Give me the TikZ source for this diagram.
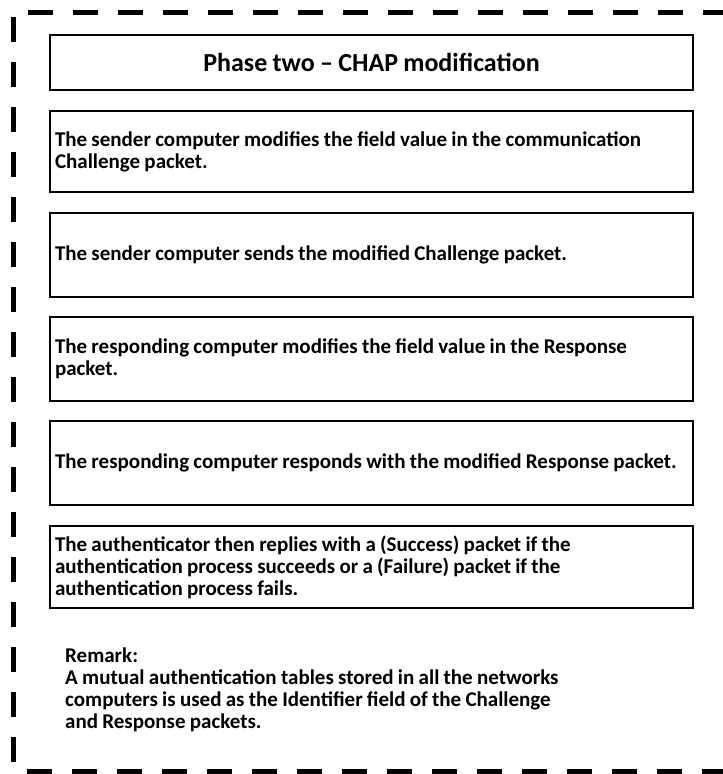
\documentclass[tikz,border=0pt]{standalone}
\usepackage{fontspec}
\setmainfont{Carlito}[WordSpace=0.9]
\begin{document}
\begin{tikzpicture}[x=1pt,y=-1pt,
  outerdash/.style={line width=5pt, dash pattern=on 25pt off 20pt},
  stepbox/.style={draw, line width=2.8pt, rectangle, minimum width=643pt,
    text width=633pt, inner xsep=5pt, inner ysep=0pt, align=flush left,
    font=\bfseries\fontsize{21}{22}\selectfont},
  titlebox/.style={draw, line width=2.8pt, rectangle, minimum width=643pt,
    inner sep=0pt, align=center, font=\bfseries\fontsize{26}{28}\selectfont},
  remarktext/.style={inner sep=0pt, align=flush left, anchor=north west,
    font=\bfseries\fontsize{21}{22}\selectfont}]
\useasboundingbox (0,0) rectangle (723,774);
\clip (0,0) rectangle (723,774);
% outer dashed frame (right side lies beyond the picture)
\coordinate (tl) at (28,12.5);
\coordinate (tr) at (760,12.5);
\coordinate (lt) at (13,17);
\coordinate (lb) at (13,771);
\coordinate (bl) at (27,771);
\coordinate (br) at (760,771);
\draw[outerdash] (tl) -- (tr);
\draw[outerdash] (lt) -- (lb);
\draw[outerdash] (bl) -- (br);
% boxes
\node[titlebox, minimum height=55pt] (title) at (371.5,62.5) {Phase two -- CHAP modification};
\node[stepbox, minimum height=81pt] (s1) at (371.5,151.5) {The sender computer modifies the field value in the communication\\Challenge packet.};
\node[stepbox, minimum height=84pt] (s2) at (371.5,255) {The sender computer sends the modified Challenge packet.};
\node[stepbox, minimum height=84pt] (s3) at (371.5,359) {The responding computer modifies the field value in the Response\\packet.};
\node[stepbox, minimum height=84pt] (s4) at (371.5,463) {The responding computer responds with the modified Response packet.};
\node[stepbox, minimum height=82pt] (s5) at (371.5,567) {The authenticator then replies with a (Success) packet if the\\authentication process succeeds or a (Failure) packet if the\\authentication process fails.};
\node[remarktext] (remark) at (65,648) {Remark:\\A mutual authentication tables stored in all the networks\\computers is used as the Identifier field of the Challenge\\and Response packets.};
\end{tikzpicture}
\end{document}
